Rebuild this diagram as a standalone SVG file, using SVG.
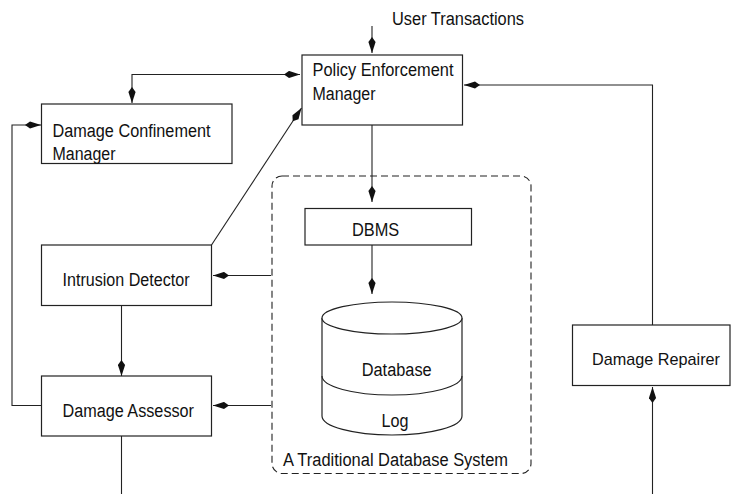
<svg xmlns="http://www.w3.org/2000/svg" width="731" height="494" viewBox="0 0 731 494">
<style>
.box{fill:#fff;stroke:#222;stroke-width:1.2}
.ln{fill:none;stroke:#222;stroke-width:1.1}
.arr{marker-end:url(#ah)}
.both{marker-start:url(#ah);marker-end:url(#ah)}
.dash{fill:none;stroke:#222;stroke-width:1.1;stroke-dasharray:7 4}
text{font-family:"Liberation Sans",Arial,sans-serif;font-size:18px;fill:#111}
.m{text-anchor:middle}
</style>
<defs>
<marker id="ah" viewBox="0 0 16 8" markerWidth="16" markerHeight="8" refX="16" refY="4" orient="auto-start-reverse" markerUnits="userSpaceOnUse">
<path d="M0,4 L5,0.4 L16,4 L5,7.6 Z" fill="#111"/>
</marker>
</defs>
<rect x="0" y="0" width="731" height="494" fill="#fff"/>

<g id="connectors">
<path class="ln arr" d="M372,26 V53"/>
<path class="ln both" d="M300,74.5 H132 V103"/>
<path class="ln arr" d="M652.5,325 V85 H464"/>
<path class="ln arr" d="M652.5,494 V387"/>
<path class="ln arr" d="M372,125 V202"/>
<path class="ln arr" d="M372,245 V294"/>
<path class="ln arr" d="M271,275.5 H213"/>
<path class="ln arr" d="M271,405.5 H213"/>
<path class="ln arr" d="M121.5,305.5 V376"/>
<path class="ln" d="M121.5,436 V494"/>
<path class="ln arr" d="M41.5,405.5 H12 V125 H41"/>
<path class="ln arr" d="M211.5,245 L301.5,108"/>
</g>

<g id="user-transactions">
<text x="392" y="24.5" textLength="132" lengthAdjust="spacingAndGlyphs">User Transactions</text>
</g>

<g id="policy-enforcement-manager">
<rect class="box" x="302" y="55" width="160.5" height="70"/>
<text x="312.5" y="76" textLength="141" lengthAdjust="spacingAndGlyphs">Policy Enforcement</text>
<text x="312.5" y="99.5" textLength="63" lengthAdjust="spacingAndGlyphs">Manager</text>
</g>

<g id="damage-confinement-manager">
<rect class="box" x="41.5" y="104" width="190.5" height="59.5"/>
<text x="52.5" y="136.5" textLength="158" lengthAdjust="spacingAndGlyphs">Damage Confinement</text>
<text x="52.5" y="160" textLength="63" lengthAdjust="spacingAndGlyphs">Manager</text>
</g>

<g id="intrusion-detector">
<rect class="box" x="41.5" y="245" width="170" height="60.5"/>
<text x="62.5" y="285.5" textLength="127" lengthAdjust="spacingAndGlyphs">Intrusion Detector</text>
</g>

<g id="damage-assessor">
<rect class="box" x="41.5" y="376" width="170" height="60"/>
<text x="62.5" y="416.5" textLength="131.5" lengthAdjust="spacingAndGlyphs">Damage Assessor</text>
</g>

<g id="traditional-database-system">
<rect class="dash" x="272" y="176" width="259" height="297.5" rx="10" ry="10"/>
<text x="283" y="466" textLength="225" lengthAdjust="spacingAndGlyphs">A Traditional Database System</text>
</g>

<g id="dbms">
<rect class="box" x="305" y="208.5" width="166.5" height="36.5"/>
<text x="352" y="236" textLength="47.3" lengthAdjust="spacingAndGlyphs">DBMS</text>
</g>

<g id="database">
<path class="box" d="M322,318 V416 A70,19 0 0 0 462,416 V318"/>
<ellipse class="box" cx="392" cy="318" rx="70" ry="16"/>
<path class="ln" d="M322,376 A70,19 0 0 0 462,376"/>
<text x="361.7" y="376" textLength="70" lengthAdjust="spacingAndGlyphs">Database</text>
<text x="381.5" y="426.5" textLength="27" lengthAdjust="spacingAndGlyphs">Log</text>
</g>

<g id="damage-repairer">
<rect class="box" x="572.5" y="325" width="157.5" height="60.5"/>
<text x="592" y="364.5" style="font-size:17px" textLength="128" lengthAdjust="spacingAndGlyphs">Damage Repairer</text>
</g>
</svg>
